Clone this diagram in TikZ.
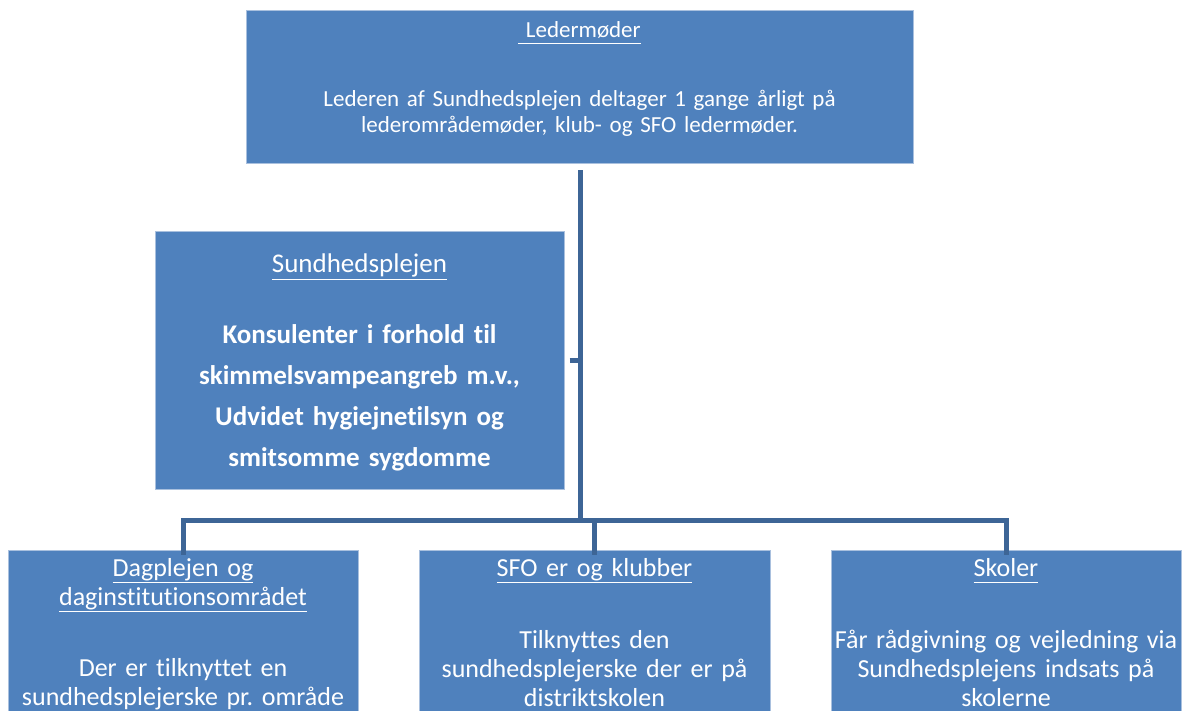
\documentclass[tikz,border=0pt]{standalone}
\usepackage{fontspec}
\setmainfont{Carlito}[Ligatures=NoCommon]
\usetikzlibrary{positioning}
\definecolor{boxblue}{HTML}{4F81BD}
\definecolor{boxedge}{HTML}{A9C0DE}
\definecolor{linkblue}{HTML}{3D6596}
\newcommand{\boxtitle}[1]{\underline{\vphantom{gj}#1}}
\frenchspacing

\begin{document}
\begin{tikzpicture}[x=1pt,y=-1pt]
  \tikzstyle{box}=[draw=boxedge,line width=1pt,fill=boxblue,inner sep=0pt]
  \tikzstyle{txt}=[text=white,align=center,inner sep=0pt,anchor=base,text width=600pt]
  \tikzstyle{small}=[font=\fontsize{23}{26}\selectfont]
  \tikzstyle{big}=[font=\fontsize{26}{29}\selectfont]
  \tikzstyle{link}=[draw=linkblue,line width=5pt]
  \useasboundingbox (0,0) rectangle (1187,711);
  \clip (0,0) rectangle (1187,711);
  \node[box,minimum width=667pt,minimum height=153pt] (leder) at (579.5,87.5) {};
  \node[box,minimum width=409pt,minimum height=257pt] (sund) at (359.5,360.5) {};
  \node[box,minimum width=350pt,minimum height=200pt] (dag) at (183,650) {};
  \node[box,minimum width=351pt,minimum height=200pt] (sfo) at (594.5,650) {};
  \node[box,minimum width=350pt,minimum height=200pt] (skole) at (1006,650) {};
  \node[txt,small] (ledertitel) at (579.5,38) {\boxtitle{~Ledermøder}};
  \node[txt,small] (ledertekst) at (579.5,107) {Lederen af Sundhedsplejen deltager 1 gange årligt på\\lederområdemøder, klub- og SFO ledermøder.};
  \node[txt,font=\fontsize{27}{30}\selectfont] (sundtitel) at (359.5,273) {\boxtitle{Sundhedsplejen}};
  \node[txt,font=\fontsize{27}{40.7}\selectfont\bfseries] (sundtekst) at (359.5,344) {Konsulenter i forhold til\\skimmelsvampeangreb m.v.,\\Udvidet hygiejnetilsyn og\\smitsomme sygdomme};
  \node[txt,big] (dagtitel) at (183,576) {\boxtitle{Dagplejen og}\\\boxtitle{daginstitutionsområdet}};
  \node[txt,big] (dagtekst) at (183,676) {Der er tilknyttet en\\sundhedsplejerske pr. område};
  \node[txt,big] (sfotitel) at (594.5,576) {\boxtitle{SFO er og klubber}};
  \node[txt,big] (sfotekst) at (594.5,648) {Tilknyttes den\\sundhedsplejerske der er på\\distriktskolen};
  \node[txt,big] (skoletitel) at (1006,576) {\boxtitle{Skoler}};
  \node[txt,big] (skoletekst) at (1006,648) {Får rådgivning og vejledning via\\Sundhedsplejens indsats på\\skolerne};
  \coordinate (hub) at (580.5,520);
  \draw[link] ([xshift=1pt,yshift=-6pt]leder.south) -- (hub);
  \draw[link] ([xshift=5pt]sund.east) -- (sund.east -| hub);
  \draw[link] ([yshift=-5pt]dag.north) |- (hub) -| ([yshift=-5pt]skole.north);
  \draw[link] (hub -| sfo.north) -- ([yshift=-5pt]sfo.north);
\end{tikzpicture}
\end{document}
